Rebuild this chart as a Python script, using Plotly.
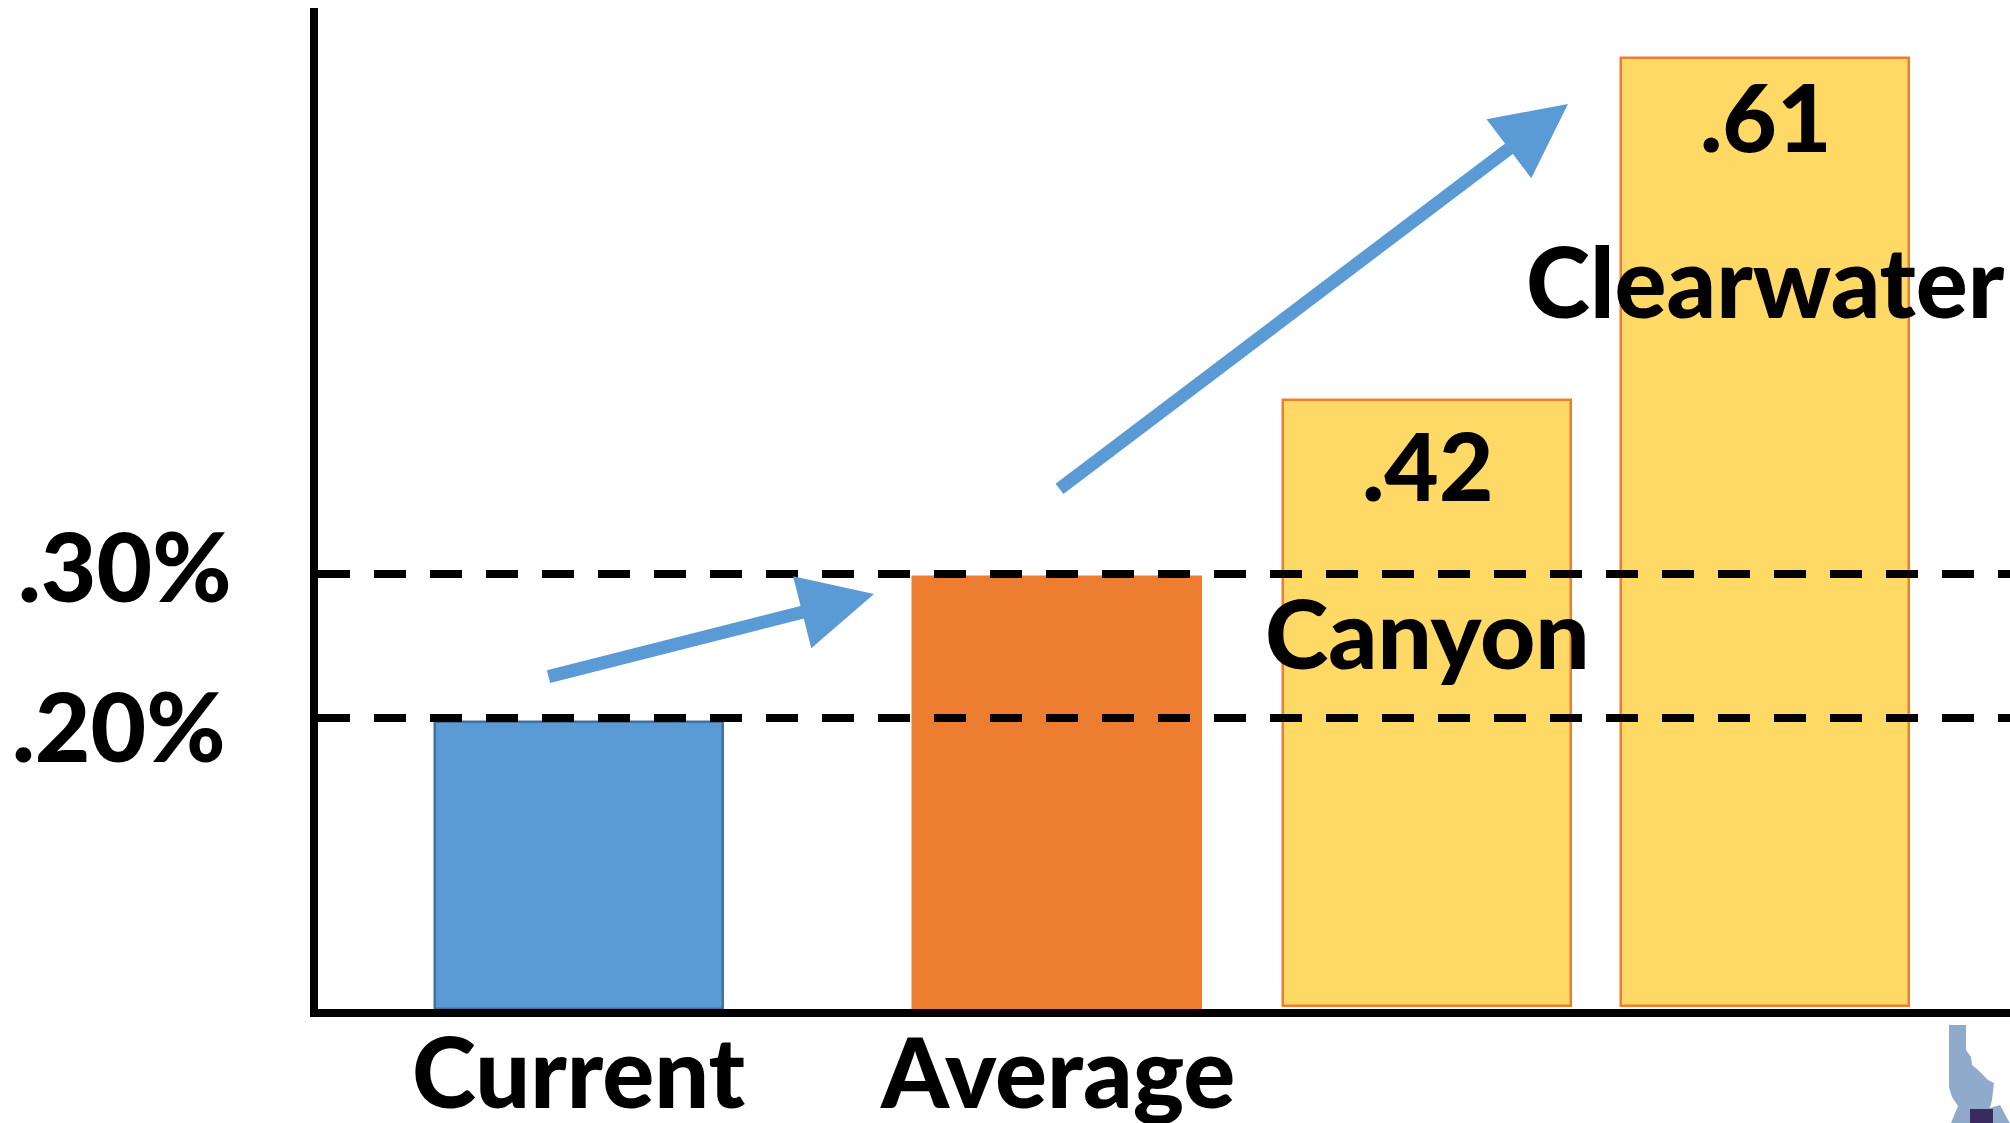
import plotly.graph_objects as go

categories = ["Current", "Average", "Canyon", "Clearwater"]
bar_values = [287, 432, 606, 948]
bar_bases = [0, 0, 3, 3]
value_labels = ["", "", ".42", ".61"]
reference_values = [291, 435]
reference_labels = [".20%", ".30%"]

slots = [261, 739, 1109, 1447]
BAR_W = 288
W, H = 2010, 1123
L, R, T, B = 318, 0, 8, 114
PW, PH = W - L - R, H - T - B
BLUE, ORANGE, YELLOW = "#5B9BD5", "#ED7D31", "#FFD966"
FONT = "Lato"
WEIGHT = 900

fig = go.Figure()
fig.add_trace(go.Bar(
    x=slots, y=bar_values, base=bar_bases, width=BAR_W,
    marker=dict(color=[BLUE, ORANGE, YELLOW, YELLOW],
                line=dict(color=["#41719C", ORANGE, ORANGE, ORANGE], width=2.5)),
    showlegend=False, hoverinfo="skip"))
for v in reference_values:
    fig.add_trace(go.Scatter(x=[0, PW], y=[v, v], mode="lines", showlegend=False,
                             line=dict(color="black", width=8, dash="32px,24px")))

def px(x, y):
    return (x - L) / PW, (H - B - y) / PH

def txt(x, y, s, size, xref="x", yref="y"):
    return dict(x=x, y=y, text=s, showarrow=False, xref=xref, yref=yref,
                font=dict(family=FONT, size=size, color="black", weight=WEIGHT),
                xanchor="center", yanchor="middle")

ann = [
    txt(slots[2], bar_values[2] + bar_bases[2] - 64, value_labels[2], 94),
    txt(slots[3], bar_values[3] + bar_bases[3] - 57, value_labels[3], 94),
    txt(slots[2], 378, categories[2], 96),
    txt(slots[3], 729, categories[3], 97),
    txt(px(125, 0)[0], reference_values[1] + 10, reference_labels[1], 96, "paper"),
    txt(px(119, 0)[0], reference_values[0] - 6, reference_labels[0], 96, "paper"),
    txt(slots[0], px(0, 1070)[1], categories[0], 97, "x", "paper"),
    txt(slots[1], px(0, 1070)[1], categories[1], 97, "x", "paper"),
]
arrows = [((229, 332), (556, 415)), ((740, 519), (1250, 905))]
for (x0, y0), (x1, y1) in arrows:
    ann.append(dict(x=x1, y=y1, ax=x0, ay=y0, xref="x", yref="y", axref="x", ayref="y",
                    showarrow=True, arrowhead=2, arrowsize=1.14, arrowwidth=13,
                    arrowcolor=BLUE, text=""))

def path(pts):
    return "M " + " L ".join("%.5f,%.5f" % px(x, y) for x, y in pts) + " Z"

idaho = [(1949, 1025), (1966, 1025), (1966, 1050), (1971, 1057), (1972, 1065), (1978, 1070),
         (1988, 1080), (1994, 1083), (1992, 1100), (1990, 1108), (2000, 1105), (2008, 1120),
         (2010, 1123), (1951, 1123), (1958, 1106), (1952, 1097), (1949, 1087)]
box = [(1970, 1109), (1993, 1109), (1993, 1123), (1970, 1123)]
shapes = [dict(type="path", xref="paper", yref="paper", path=path(idaho),
               fillcolor="#8FAACB", line=dict(width=0)),
          dict(type="path", xref="paper", yref="paper", path=path(box),
               fillcolor="#3B2A5E", line=dict(width=0))]

fig.update_layout(
    width=W, height=H, margin=dict(l=L, r=R, t=T, b=B), paper_bgcolor="white", plot_bgcolor="white",
    annotations=ann, shapes=shapes, bargap=0, showlegend=False,
    xaxis=dict(range=[0, PW], showticklabels=False, automargin=False,
               showgrid=False, zeroline=False, showline=True, linecolor="black", linewidth=8,
               ticks=""),
    yaxis=dict(range=[0, PH], showgrid=False, zeroline=False, showline=True, linecolor="black",
               linewidth=7.5, ticks="", showticklabels=False, automargin=False),
)
fig.write_html("out.html", config=dict(displayModeBar=False),
               post_script="document.body.style.margin='0';document.body.style.overflow='hidden';")
